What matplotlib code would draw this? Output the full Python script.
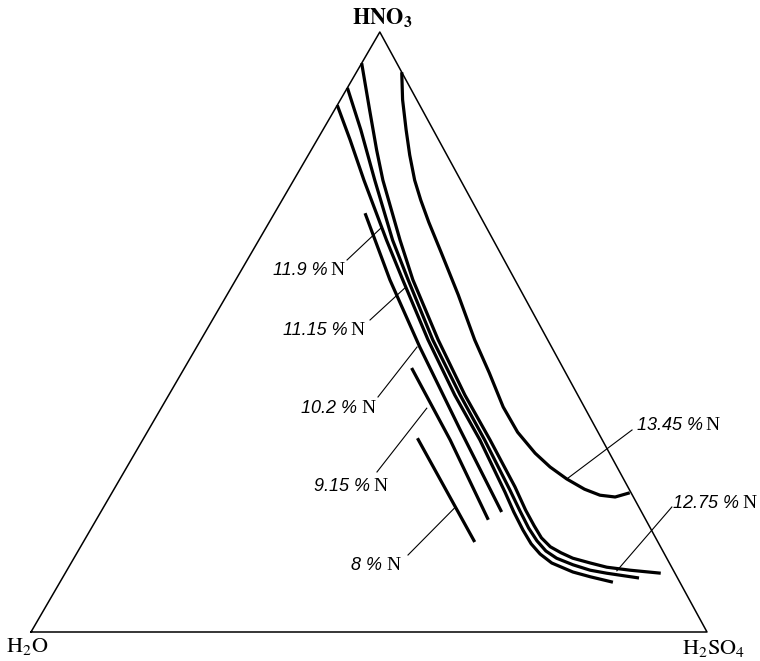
import numpy as np
import matplotlib.pyplot as plt

# mixed acid compositions (wt %): HNO3 and H2SO4, rest is water
n1345_hno3 = [93.3, 88.7, 83.7, 79.5, 75.3, 72.0, 68.3, 63.3, 56.2, 48.7, 43.2, 37.5, 33.3,
              29.8, 27.5, 25.5, 23.8, 22.8, 22.5, 23.2]
n1345_h2so4 = [6.7, 9.2, 12.3, 15.0, 17.9, 20.5, 23.6, 28.0, 34.2, 40.5, 45.5, 50.5, 54.8,
               59.2, 62.6, 66.1, 69.6, 72.4, 74.8, 76.6]

n1275_hno3 = [94.8, 87.0, 80.3, 75.3, 65.3, 58.7, 48.7, 39.5, 32.0, 24.2, 20.3, 17.7, 15.7,
              14.2, 13.2, 12.3, 11.5, 10.8, 10.3, 9.8]
n1275_h2so4 = [0.0, 5.2, 9.7, 13.2, 20.9, 26.2, 35.1, 43.8, 51.4, 59.1, 62.7, 65.3, 67.4,
               69.5, 71.6, 73.8, 76.8, 79.6, 83.3, 88.1]

n119_hno3 = [90.7, 83.7, 75.3, 65.3, 58.7, 48.7, 39.5, 32.0, 23.7, 20.2, 17.3, 15.2, 13.5,
             12.3, 11.2, 10.3, 9.8, 9.0]
n119_h2so4 = [0.0, 5.6, 12.0, 19.8, 25.5, 34.3, 43.1, 50.6, 58.6, 61.9, 64.7, 67.0, 69.2,
              71.4, 74.4, 77.4, 80.1, 85.3]

n1115_hno3 = [87.8, 82.0, 75.3, 65.3, 58.7, 48.7, 39.5, 32.0, 23.3, 20.0, 17.0, 14.7, 13.0,
              11.5, 10.0, 9.2, 8.3]
n1115_h2so4 = [0.0, 4.9, 10.4, 18.9, 24.7, 33.6, 42.3, 49.9, 58.1, 61.1, 64.0, 66.4, 68.6,
               71.1, 75.0, 78.0, 81.8]

n102_hno3 = [69.8, 58.7, 47.5, 33.7, 20.0]
n102_h2so4 = [13.4, 22.8, 33.0, 46.1, 59.3]

n915_hno3 = [44.0, 32.0, 18.7]
n915_h2so4 = [33.6, 45.5, 58.0]

n8_hno3 = [32.3, 15.0]
n8_h2so4 = [40.5, 57.9]

labels = ["13.45 %", "12.75 %", "11.9 %", "11.15 %", "10.2 %", "9.15 %", "8 %"]
# where each leader touches its curve (HNO3, H2SO4)
leader_hno3 = [25.5, 10.2, 67.5, 57.3, 47.5, 37.3, 20.7]
leader_h2so4 = [66.1, 81.4, 17.1, 25.7, 32.6, 39.3, 52.0]

APEX_X = 0.516  # the printed triangle leans slightly


def to_xy(hno3, h2so4):
    a = np.asarray(hno3) / 100.0
    s = np.asarray(h2so4) / 100.0
    return s + APEX_X * a, a


fig = plt.figure(figsize=(7.6, 6.61), dpi=100)
ax = fig.add_axes([31 / 760, 29 / 661, 676 / 760, 600 / 661])
ax.set_xlim(0, 1)
ax.set_ylim(0, 1)
ax.axis('off')

# triangle
tx, ty = to_xy([0, 0, 100, 0], [0, 100, 0, 0])
ax.plot(tx, ty, color='black', lw=1.1, clip_on=False)

curves = [(n1345_hno3, n1345_h2so4), (n1275_hno3, n1275_h2so4), (n119_hno3, n119_h2so4),
          (n1115_hno3, n1115_h2so4), (n102_hno3, n102_h2so4), (n915_hno3, n915_h2so4),
          (n8_hno3, n8_h2so4)]
for h, s in curves:
    x, y = to_xy(h, s)
    ax.plot(x, y, color='black', lw=2.3, solid_capstyle='butt', solid_joinstyle='round',
            clip_on=False)

# label layout: (text x, text y, leader start x, leader start y, side)
layout = [
    (0.8964, 0.345, 0.8891, 0.3367, 'right'),
    (0.9500, 0.215, 0.9480, 0.2083, 'right'),
    (0.4645, 0.6017, 0.4675, 0.6200, 'left'),
    (0.4940, 0.5017, 0.5015, 0.5200, 'left'),
    (0.5089, 0.3733, 0.5133, 0.3917, 'left'),
    (0.5281, 0.2433, 0.5118, 0.2667, 'left'),
    (0.5459, 0.1100, 0.5577, 0.1283, 'left'),
]
num_font = dict(family='Liberation Sans', style='italic', size=13)
n_font = dict(family='Liberation Serif', size=14)

lx, ly = to_xy(leader_hno3, leader_h2so4)
for i, lab in enumerate(labels):
    tx_, ty_, sx, sy, side = layout[i]
    ax.plot([sx, lx[i]], [sy, ly[i]], color='black', lw=0.8, clip_on=False)
    if side == 'left':
        ax.text(tx_, ty_, 'N', ha='right', va='center', **n_font)
        ax.text(tx_ - 0.026, ty_, lab, ha='right', va='center', **num_font)
    else:
        t = ax.text(tx_, ty_, lab, ha='left', va='center', **num_font)
        fig.canvas.draw()
        bb = t.get_window_extent().transformed(ax.transData.inverted())
        ax.text(bb.x1 + 0.004, ty_, 'N', ha='left', va='center', **n_font)

plt.rcParams['mathtext.fontset'] = 'stix'
ax.text(0.5192, 1.022, r'$\mathbf{HNO_3}$', ha='center', va='center', fontsize=16)
ax.text(-0.006, -0.024, r'$\mathrm{H_2O}$', ha='center', va='center', fontsize=16)
ax.text(1.0104, -0.027, r'$\mathrm{H_2SO_4}$', ha='center', va='center', fontsize=16)

fig.savefig('out.png', dpi=100, facecolor='white')
